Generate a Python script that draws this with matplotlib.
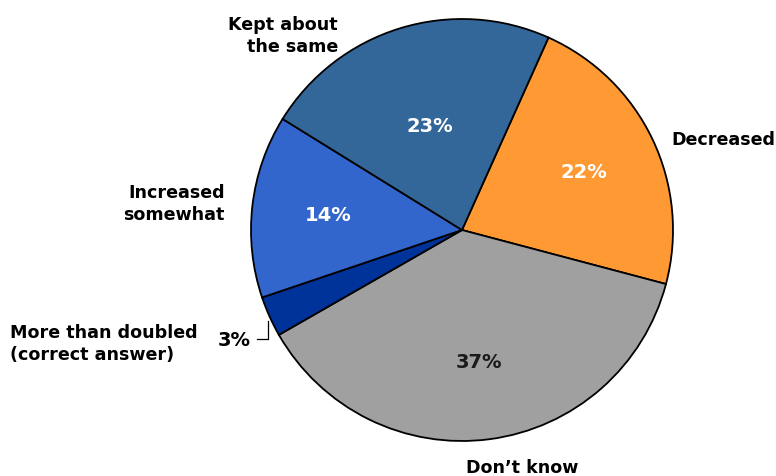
import matplotlib.pyplot as plt
import numpy as np

# slices, clockwise from the top right
labels = ['Decreased', 'Don\u2019t know', 'More than doubled\n(correct answer)',
          'Increased\nsomewhat', 'Kept about\nthe same']
values = [22.4, 37.6, 3.1, 14.0, 22.9]
pct_text = ['22%', '37%', '3%', '14%', '23%']
colors = ['#FF9933', '#A0A0A0', '#003399', '#3366CC', '#336699']
pct_colors = ['white', '#1a1a1a', '#1a1a1a', 'white', 'white']

W, H = 776, 477
fig = plt.figure(figsize=(W / 100, H / 100), dpi=100)
ax = fig.add_axes([0, 0, 1, 1])

cx, cy, r = 462, H - 231, 211
wedges, _ = ax.pie(values, colors=colors, startangle=65.8, counterclock=False,
                   center=(cx, cy), radius=r, frame=True,
                   wedgeprops=dict(edgecolor='black', linewidth=1.3))
ax.set_xlim(0, W)
ax.set_ylim(0, H)
ax.axis('off')

font = dict(fontsize=12.6, fontweight='bold', family='DejaVu Sans')
pfont = dict(fontsize=14, fontweight='bold', family='DejaVu Sans')

# percentage labels inside the slices
dist = [0.64, 0.63, None, 0.64, 0.52]
for w, t, c, d in zip(wedges, pct_text, pct_colors, dist):
    if d is None:
        continue
    ang = np.deg2rad((w.theta1 + w.theta2) / 2)
    ax.text(cx + d * r * np.cos(ang), cy + d * r * np.sin(ang), t,
            color=c, ha='center', va='center', **pfont)

# category labels
ax.text(671, H - 140, labels[0], ha='left', va='center', **font)
ax.text(522, H - 468, labels[1], ha='center', va='center', **font)
ax.text(10, H - 344, labels[2], ha='left', va='center', linespacing=1.25, **font)
ax.text(225, H - 204, labels[3], ha='right', va='center', linespacing=1.25, **font)
ax.text(338, H - 36, labels[4], ha='right', va='center', linespacing=1.25, **font)

# small slice: label outside with a leader line
ax.text(234, H - 340, pct_text[2], ha='center', va='center', **pfont)
ax.plot([257, 268, 268], [H - 340, H - 340, H - 322], color='black', lw=0.9)

fig.savefig('out.png', dpi=100)
